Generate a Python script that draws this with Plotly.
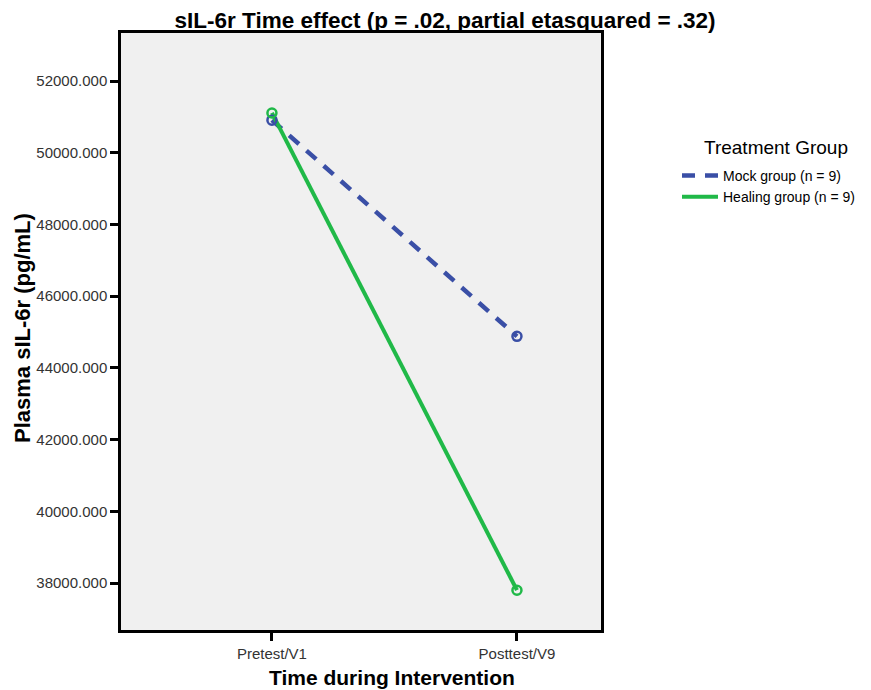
import plotly.graph_objects as go

categories = ["Pretest/V1", "Posttest/V9"]
mock_values = [50910, 44880]
healing_values = [51110, 37800]
y_ticks = [38000, 40000, 42000, 44000, 46000, 48000, 50000, 52000]

x_pos = list(range(len(categories)))
blue = "#3A4FA6"
green = "#20B948"

L, R, T, B = 121, 601, 33, 630
W, H = 871, 690

fig = go.Figure()
fig.add_trace(go.Scatter(x=x_pos, y=mock_values, mode="lines", name="Mock group (n = 9)",
                         line=dict(color=blue, width=4.5, dash="13px,10px")))
fig.add_trace(go.Scatter(x=x_pos, y=healing_values, mode="lines", name="Healing group (n = 9)",
                         line=dict(color=green, width=4)))
fig.add_trace(go.Scatter(x=x_pos, y=mock_values, mode="markers", showlegend=False,
                         marker=dict(symbol="circle-open", size=9, color=blue, line=dict(width=2.5))))
fig.add_trace(go.Scatter(x=x_pos, y=healing_values, mode="markers", showlegend=False,
                         marker=dict(symbol="circle-open", size=9, color=green, line=dict(width=2.5))))

def px_x(x):
    return (x - L) / (R - L)

def px_y(y):
    return (B - y) / (B - T)

fig.update_layout(
    width=W, height=H,
    margin=dict(l=L, r=W - R, t=T, b=H - B, autoexpand=False),
    paper_bgcolor="white", plot_bgcolor="#F0F0F0",
    font=dict(family="Liberation Sans, Arial, sans-serif", color="black"),
    title=dict(text="<b>sIL-6r Time effect (p = .02, partial etasquared = .32)</b>",
               x=0.511, xanchor="center", y=0.971, yanchor="middle",
               font=dict(size=22.5, color="black")),
    xaxis=dict(range=[-0.616, 1.343], tickvals=x_pos, ticktext=categories,
               showgrid=False, zeroline=False, showline=True, linecolor="black", linewidth=2.5,
               mirror=True, ticks="outside", ticklen=8, tickwidth=2.5, tickcolor="black",
               tickfont=dict(size=15, color="#333333"), automargin=False),
    yaxis=dict(range=[36690, 53340], tickvals=y_ticks, tickformat=".3f",
               showgrid=False, zeroline=False, showline=True, linecolor="black", linewidth=2.5,
               mirror=True, ticks="outside", ticklen=8, tickwidth=2.5, tickcolor="black",
               tickfont=dict(size=15, color="#333333"), automargin=False),
    legend=dict(x=px_x(677), y=px_y(160), xanchor="left", yanchor="top",
                font=dict(size=14), bgcolor="rgba(0,0,0,0)", itemwidth=36, tracegroupgap=0),
    annotations=[
        dict(text="Treatment Group", xref="paper", yref="paper",
             x=px_x(702), y=px_y(147), xanchor="left", yanchor="middle",
             showarrow=False, font=dict(size=19, color="black")),
        dict(text="<b>Time during Intervention</b>", xref="paper", yref="paper",
             x=px_x(392), y=px_y(677), xanchor="center", yanchor="middle",
             showarrow=False, font=dict(size=21, color="black")),
        dict(text="<b>Plasma sIL-6r (pg/mL)</b>", xref="paper", yref="paper",
             x=px_x(22), y=px_y(328), xanchor="center", yanchor="middle", textangle=-90,
             showarrow=False, font=dict(size=22, color="black")),
    ],
)

fig.write_html("out.html")
